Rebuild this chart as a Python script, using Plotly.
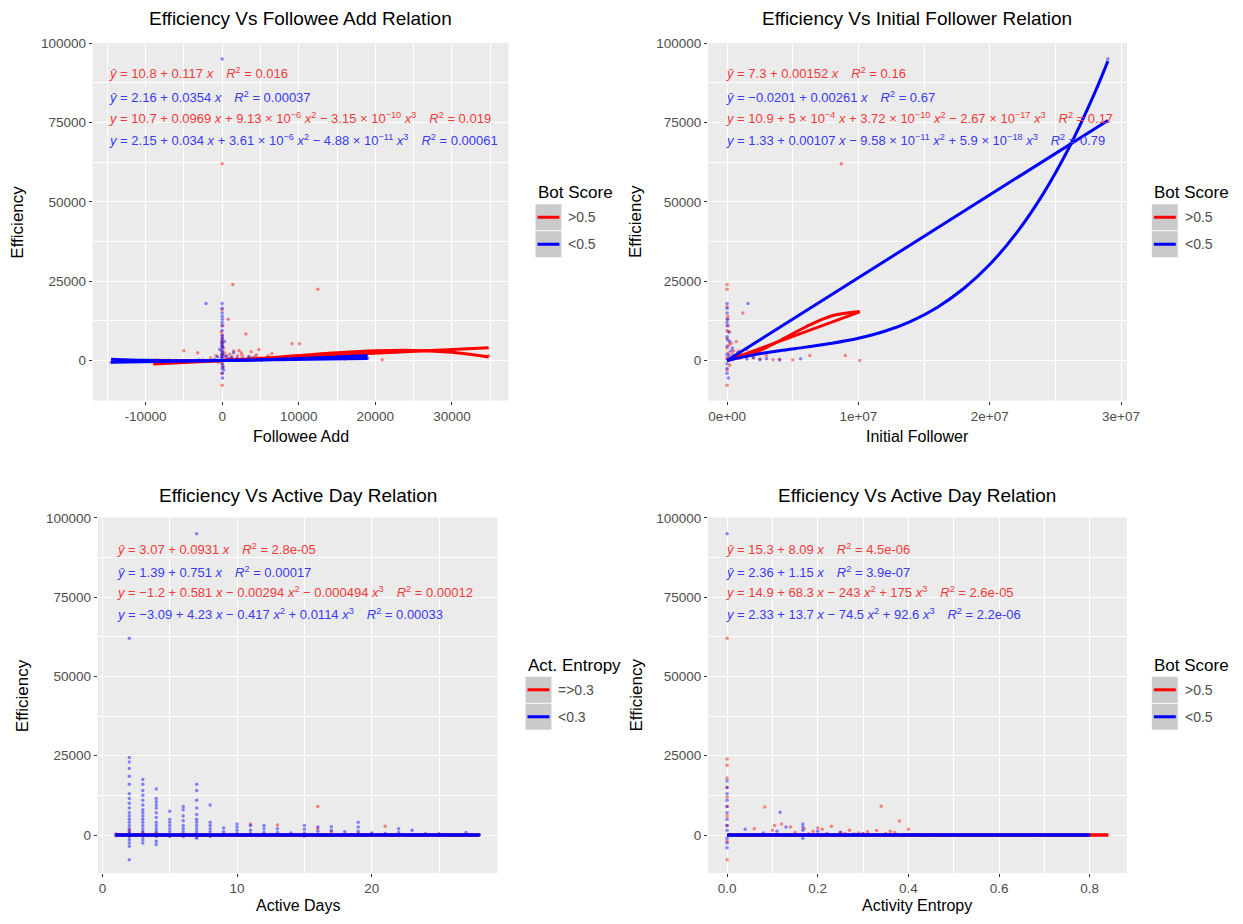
import plotly.graph_objects as go

W, H = 1243, 924
OFF = 8
FW, FH = W - 2 * OFF, H - 2 * OFF
RED, BLUE = "#FF0000", "#0000FF"
TRED, TBLUE = "#F03A3A", "#3A3AF0"
FONT = "Liberation Sans, Arial, sans-serif"

# ---------------- data ----------------
titles = ["Efficiency Vs Followee Add Relation", "Efficiency Vs Initial Follower Relation",
          "Efficiency Vs Active Day Relation", "Efficiency Vs Active Day Relation"]
xtitles = ["Followee Add", "Initial Follower", "Active Days", "Activity Entropy"]
ytitle = "Efficiency"
legend_titles = ["Bot Score", "Bot Score", "Act. Entropy", "Bot Score"]
legend_labels = [[">0.5", "<0.5"], [">0.5", "<0.5"], ["=>0.3", "<0.3"], [">0.5", "<0.5"]]

y_ticks = [0, 25000, 50000, 75000, 100000]
y_minor = [-12500, 12500, 37500, 62500, 87500]
x1_ticks = [-10000, 0, 10000, 20000, 30000]
x1_minor = [-15000, -5000, 5000, 15000, 25000, 35000]
x2_ticks = [0, 1e7, 2e7, 3e7]
x2_ticktext = ["0e+00", "1e+07", "2e+07", "3e+07"]
x2_minor = [5e6, 1.5e7, 2.5e7]
x3_ticks = [0, 10, 20]
x3_minor = [5, 15, 25]
x4_ticks = [0, 0.2, 0.4, 0.6, 0.8]
x4_ticktext = ["0.0", "0.2", "0.4", "0.6", "0.8"]
x4_minor = [0.1, 0.3, 0.5, 0.7]

# Panel 1: Followee Add
p1_red_x = [1400, 12500, 800, 3100, 10100, 9100, -3200, -5000, 20900, 0, 0, 100, -100, 50, 0, 200, -50, 300, 150,
            600, 1000, 1500, 2000, 2500, 2800, 3500, 4000, 4500, 5000, 5500, 6000, 6500, 7000, 7500, 8000, 1800,
            2200, 3800, 4800, -1500, -800, -2500, -500, 100, 0, 11000, 14000, 16000, -7000, -9000, 34800,
            0, 0, 0, 0, 60, -60, 400, 700, 1100, 1300, 1700, 2400, 2600, 3300, 4300, 5200, 5800, 6800]
p1_red_y = [24000, 22500, 13000, 8400, 5300, 5300, 2500, 3100, 300, -7800, 62000, 11000, 9000, 7000, 5500, 4000,
            3000, 2500, 1500, 1200, 2000, 3000, 1500, 2500, 800, 1200, 600, 1800, 900, 400, 1500, 2200, 700, 1000,
            300, 500, 3200, 2800, 3500, 800, 1500, 300, -500, -2000, -4000, 1000, 800, 500, 200, -300, 1500,
            16000, 8000, 2000, -1000, 4500, 6000, 700, 300, 500, 1100, 200, 400, 1700, 600, 1300, 200, 800, 400]
p1_blue_x = [0, -2100, 0, 0, 30, -30, 0, 20, 0, -20, 0, 10, 0, 0, 0, 0, 0, 50, 500, 800, 1200, -600, -1000, 2000,
             3000, 4000, 5000, 6000, -14500, 19000, -3000, 1500, -300, 300,
             0, 0, 0, 0, 0, 0, 40, -40, 100, -100, 200, 2500, 3500]
p1_blue_y = [95000, 18000, 18000, 15000, 13000, 11000, 9500, 8000, 6500, 5000, 4000, 3000, 2000, 1000, -1000,
             -2500, -4000, -5500, 1500, 600, 1000, 1200, 400, 700, 300, 900, 300, 500, -500, 700, 200, 2500, 3500, 6000,
             16500, 14000, 12000, 7200, 5700, 4500, 2500, 1500, -1800, 800, -3000, 500, 1100]
p1_red_lin_x = [-9000, 34800]
p1_red_lin_y = [-1040, 4080]
p1_red_cub_x = [-9000, 0, 5000, 10000, 15000, 20000, 25000, 30000, 34800]
p1_red_cub_y = [108, 11, 684, 1578, 2455, 3081, 3217, 2630, 1165]
p1_blue_lin_x = [-14500, 19000]
p1_blue_lin_y = [-511, 675]
p1_blue_cub_x = [-14500, -10000, -5000, 0, 5000, 10000, 15000, 19000]
p1_blue_cub_y = [417, 72, -72, 2, 256, 654, 1160, 1617]

# Panel 2: Initial Follower
p2_red_x = [0, 0, 1.2e6, 0, 1e5, 2e5, 0, 3e5, 0, 5e5, 1e6, 1.5e6, 2e6, 2.5e6, 3e6, 3.5e6, 6.3e6, 9e6, 1.01e7,
            8.7e6, 0, 0, 2e5, 4e6, 5e6, 1.5e6, 7e5, 1e5, 0, 0, 0, 0, 5e4, 1.5e5, 4e5, 6e5, 9e5]
p2_red_y = [24000, 22500, 15000, 13000, 11000, 9000, 7000, 5500, 4000, 3000, 2000, 1200, 800, 500, 1500, 300,
            1600, 1600, 0, 62000, -7800, -3000, -1500, 400, 200, 3500, 6000, 2500, 1000, 500, 17000, 9500, 14000,
            5000, 2000, 1000, 3000]
p2_blue_x = [0, 1.6e6, 0, 5e4, 0, 1e5, 0, 2e5, 0, 3e5, 0, 6e5, 1e6, 1.5e6, 2e6, 2.5e6, 3e6, 4e6, 5.6e6, 0, 0, 0,
             1e5, 2.9e7, 8e5, 4e5, 0, 0, 5e4, 1.5e5, 2.5e5]
p2_blue_y = [18000, 18000, 15000, 13000, 11000, 9000, 7500, 6000, 4500, 3000, 2000, 1500, 800, 500, 1000, 300,
             600, 200, 600, -1000, -2500, -4000, -5500, 95000, 2500, 4000, 16500, 12000, 6500, 1500, 500]
p2_red_lin_x = [0, 1.01e7]
p2_red_lin_y = [7, 15359]
p2_red_cub_x = [0, 2e6, 4e6, 6e6, 8e6, 1.01e7]
p2_red_cub_y = [11, 2285, 6254, 10636, 14149, 15500]
p2_blue_lin_x = [0, 2.9e7]
p2_blue_lin_y = [0, 75690]
p2_blue_cub_x = [0, 2e6, 4e6, 6e6, 8e6, 1e7, 1.2e7, 1.4e7, 1.6e7, 1.8e7, 2e7, 2.2e7, 2.4e7, 2.6e7, 2.8e7, 2.9e7]
p2_blue_cub_y = [1, 1804, 3125, 4246, 5450, 7020, 9240, 12393, 16761, 22630, 30280, 39996, 52061, 66757, 84370, 94356]

# Panel 3: Active Days
p3_blue_pts = {
    1: [300, -200],
    2: [24400, 23000, 21000, 18500, 16000, 13000, 11500, 10000, 8500, 7000, 6000, 5000, 4000, 3000, 2000, 1000,
        500, -500, -1500, -2500, -3500, -7800, 62000],
    3: [17500, 16000, 14000, 12500, 11000, 9500, 8000, 7000, 6000, 5000, 4000, 3000, 2000, 1000, -500, -1500, -2500],
    4: [14500, 11500, 10500, 9500, 8500, 7000, 5500, 4000, 3000, 2000, 1000, -500, -2000, -3000],
    5: [7500, 5000, 4000, 3000, 2000, 1000, -500],
    6: [9000, 8000, 6000, 4500, 3000, 2000, 1000, -500],
    7: [95000, 16000, 14000, 11000, 8500, 6500, 5000, 4000, 3000, 2000, 1000, -500, -1000],
    8: [9500, 4000, 3000, 2000, 1000, -500],
    9: [2200, 1000],
    10: [3500, 2500, 1500, 500],
    11: [3000, 1500, 500],
    12: [3000, 2000, 800],
    13: [2000, 800],
    14: [600],
    15: [3000, 1800, 600, -300],
    16: [2500, 1200],
    17: [2600, 1400],
    18: [1000],
    19: [4000, 2500, 1200],
    20: [600],
    21: [500],
    22: [2000, 800],
    23: [1500],
    24: [400],
    25: [300],
    27: [800],
    28: [100],
}
p3_blue_x = [k for k, v in p3_blue_pts.items() for _ in v]
p3_blue_y = [y for v in p3_blue_pts.values() for y in v]
p3_red_x = [1, 2, 3, 4, 11, 13, 16, 16, 17, 19, 20, 21, 24, 25, 28]
p3_red_y = [50, 1500, 800, 600, 3500, 3200, 9000, 2000, 1000, 500, 300, 2800, 200, 300, 100]
p3_red_lin_x = [1, 28]
p3_red_lin_y = [3, 6]
p3_red_cub_x = [1, 7, 14, 21, 28]
p3_red_cub_y = [-1, 3, 5, 5, 2]
p3_blue_lin_x = [1, 28]
p3_blue_lin_y = [2, 22]
p3_blue_cub_x = [1, 7, 14, 21, 28]
p3_blue_cub_y = [1, 10, 6, 7, 39]

# Panel 4: Activity Entropy
p4_red_x = [0, 0, 0, 0, 0, 0, 0, 0, 0, 0, 0, 0.083, 0.34, 0.38, 0.06, 0.1, 0.12, 0.14, 0.17, 0.19, 0.21, 0.23,
            0.25, 0.27, 0.29, 0.31, 0.33, 0.35, 0.37, 0.4, 0.41, 0.45, 0.5, 0.6, 0.68, 0.7, 0.8, 0.84,
            0.105, 0.15, 0.18, 0.2, 0.26, 0.3, 0.36]
p4_red_y = [62000, 24000, 22000, 18000, 15000, 12000, 9000, 6000, 3000, -2000, -7800, 8800, 9100, 4400, 2000, 1500,
            3500, 2500, 2000, 1200, 1800, 2800, 900, 1500, 600, 1000, 1400, 500, 800, 1800, 200, 100, 50, 50, 100,
            50, 0, 0, 3000, 800, 400, 2200, 500, 300, 1200]
p4_blue_x = [0, 0, 0, 0, 0, 0, 0, 0, 0, 0, 0, 0, 0, 0.117, 0.04, 0.08, 0.11, 0.13, 0.167, 0.167, 0.167, 0.167, 0.2,
             0.22, 0.25, 0.28, 0.3, 0.35, 0.5, 0.8]
p4_blue_y = [95000, 17000, 15000, 13000, 11000, 9000, 7000, 5000, 3000, 1500, -1000, -2500, -4000, 7200, 1800, 600,
             1200, 2500, 3500, 2500, 1500, -1000, 1200, 500, 800, 300, 400, 200, 50, 0]
p4_red_lin_x = [0, 0.84]
p4_red_lin_y = [15, 22]
p4_red_cub_x = [0, 0.4, 0.84]
p4_red_cub_y = [15, 15, 5]
p4_blue_lin_x = [0, 0.8]
p4_blue_lin_y = [2, 3]
p4_blue_cub_x = [0, 0.4, 0.8]
p4_blue_cub_y = [2, 2, 13]

eq_text = [
    ["<i>ŷ</i> = 10.8 + 0.117 <i>x</i>\u2003<i>R</i><sup>2</sup> = 0.016",
     "<i>ŷ</i> = 2.16 + 0.0354 <i>x</i>\u2003<i>R</i><sup>2</sup> = 0.00037",
     "<i>y</i> = 10.7 + 0.0969 <i>x</i> + 9.13 × 10<sup>−6</sup> <i>x</i><sup>2</sup> − 3.15 × 10<sup>−10</sup> <i>x</i><sup>3</sup>\u2003<i>R</i><sup>2</sup> = 0.019",
     "<i>y</i> = 2.15 + 0.034 <i>x</i> + 3.61 × 10<sup>−6</sup> <i>x</i><sup>2</sup> − 4.88 × 10<sup>−11</sup> <i>x</i><sup>3</sup>\u2003<i>R</i><sup>2</sup> = 0.00061"],
    ["<i>ŷ</i> = 7.3 + 0.00152 <i>x</i>\u2003<i>R</i><sup>2</sup> = 0.16",
     "<i>ŷ</i> = −0.0201 + 0.00261 <i>x</i>\u2003<i>R</i><sup>2</sup> = 0.67",
     "<i>y</i> = 10.9 + 5 × 10<sup>−4</sup> <i>x</i> + 3.72 × 10<sup>−10</sup> <i>x</i><sup>2</sup> − 2.67 × 10<sup>−17</sup> <i>x</i><sup>3</sup>\u2003<i>R</i><sup>2</sup> = 0.17",
     "<i>y</i> = 1.33 + 0.00107 <i>x</i> − 9.58 × 10<sup>−11</sup> <i>x</i><sup>2</sup> + 5.9 × 10<sup>−18</sup> <i>x</i><sup>3</sup>\u2003<i>R</i><sup>2</sup> = 0.79"],
    ["<i>ŷ</i> = 3.07 + 0.0931 <i>x</i>\u2003<i>R</i><sup>2</sup> = 2.8e-05",
     "<i>ŷ</i> = 1.39 + 0.751 <i>x</i>\u2003<i>R</i><sup>2</sup> = 0.00017",
     "<i>y</i> = −1.2 + 0.581 <i>x</i> − 0.00294 <i>x</i><sup>2</sup> − 0.000494 <i>x</i><sup>3</sup>\u2003<i>R</i><sup>2</sup> = 0.00012",
     "<i>y</i> = −3.09 + 4.23 <i>x</i> − 0.417 <i>x</i><sup>2</sup> + 0.0114 <i>x</i><sup>3</sup>\u2003<i>R</i><sup>2</sup> = 0.00033"],
    ["<i>ŷ</i> = 15.3 + 8.09 <i>x</i>\u2003<i>R</i><sup>2</sup> = 4.5e-06",
     "<i>ŷ</i> = 2.36 + 1.15 <i>x</i>\u2003<i>R</i><sup>2</sup> = 3.9e-07",
     "<i>y</i> = 14.9 + 68.3 <i>x</i> − 243 <i>x</i><sup>2</sup> + 175 <i>x</i><sup>3</sup>\u2003<i>R</i><sup>2</sup> = 2.6e-05",
     "<i>y</i> = 2.33 + 13.7 <i>x</i> − 74.5 <i>x</i><sup>2</sup> + 92.6 <i>x</i><sup>3</sup>\u2003<i>R</i><sup>2</sup> = 2.2e-06"],
]

# ---------------- layout helpers (reference pixel -> paper) ----------------
def gx(p):
    return 18 + (p - 18) * 1.008

def gy(p):
    return p - 6 + 6 * (p - 18) / 890

def fx(p):
    return (gx(p) - OFF) / FW

def fy(p):
    return 1 - (gy(p) - OFF) / FH

panels = [
    dict(xd=(93, 510), yd=(42, 400), xr=[-16900, 37400], yr=[-12600, 100100],
         xt=x1_ticks, xtt=[str(v) for v in x1_ticks], xm=x1_minor,
         pts=[(p1_red_x, p1_red_y, RED), (p1_blue_x, p1_blue_y, BLUE)],
         lines=[(p1_red_lin_x, p1_red_lin_y, RED, "linear"), (p1_red_cub_x, p1_red_cub_y, RED, "spline"),
                (p1_blue_lin_x, p1_blue_lin_y, BLUE, "linear"), (p1_blue_cub_x, p1_blue_cub_y, BLUE, "spline")],
         title_y=18, eq_x=107, eq_y=[72, 96, 117, 139], xt_y=436, yt_x=18, leg_x=537, leg_y=192),
    dict(xd=(710, 1130), yd=(42, 400), xr=[-1.45e6, 3.045e7], yr=[-12600, 100100],
         xt=x2_ticks, xtt=x2_ticktext, xm=x2_minor,
         pts=[(p2_red_x, p2_red_y, RED), (p2_blue_x, p2_blue_y, BLUE)],
         lines=[(p2_red_lin_x, p2_red_lin_y, RED, "linear"), (p2_red_cub_x, p2_red_cub_y, RED, "spline"),
                (p2_blue_lin_x, p2_blue_lin_y, BLUE, "linear"), (p2_blue_cub_x, p2_blue_cub_y, BLUE, "spline")],
         title_y=18, eq_x=726, eq_y=[72, 96, 117, 139], xt_y=436, yt_x=638, leg_x=1155, leg_y=192),
    dict(xd=(98, 499), yd=(517, 873), xr=[-0.35, 29.35], yr=[-12000, 100100],
         xt=x3_ticks, xtt=[str(v) for v in x3_ticks], xm=x3_minor,
         pts=[(p3_red_x, p3_red_y, RED), (p3_blue_x, p3_blue_y, BLUE)],
         lines=[(p3_red_lin_x, p3_red_lin_y, RED, "linear"), (p3_red_cub_x, p3_red_cub_y, RED, "spline"),
                (p3_blue_lin_x, p3_blue_lin_y, BLUE, "linear"), (p3_blue_cub_x, p3_blue_cub_y, BLUE, "spline")],
         title_y=495, eq_x=115, eq_y=[549, 572, 592, 614], xt_y=905, yt_x=22, leg_x=527, leg_y=665),
    dict(xd=(710, 1130), yd=(517, 873), xr=[-0.042, 0.882], yr=[-12000, 100100],
         xt=x4_ticks, xtt=x4_ticktext, xm=x4_minor,
         pts=[(p4_red_x, p4_red_y, RED), (p4_blue_x, p4_blue_y, BLUE)],
         lines=[(p4_red_lin_x, p4_red_lin_y, RED, "linear"), (p4_red_cub_x, p4_red_cub_y, RED, "spline"),
                (p4_blue_lin_x, p4_blue_lin_y, BLUE, "linear"), (p4_blue_cub_x, p4_blue_cub_y, BLUE, "spline")],
         title_y=495, eq_x=726, eq_y=[549, 572, 592, 614], xt_y=905, yt_x=638, leg_x=1155, leg_y=665),
]

fig = go.Figure()
layout = dict(width=FW, height=FH, margin=dict(l=0, r=0, t=0, b=0), paper_bgcolor="white",
              plot_bgcolor="#EBEBEB", showlegend=False, font=dict(family=FONT))
annotations = []
shapes = []

for i, p in enumerate(panels):
    n = "" if i == 0 else str(i + 1)
    xa, ya = "x" + n, "y" + n
    for xs, ys, col in p["pts"]:
        fig.add_trace(go.Scatter(x=xs, y=ys, mode="markers", xaxis=xa, yaxis=ya,
                                 marker=dict(size=3.5, color=col, opacity=0.45, line=dict(width=0)),
                                 hoverinfo="skip"))
    for xs, ys, col, shp in p["lines"]:
        fig.add_trace(go.Scatter(x=xs, y=ys, mode="lines", xaxis=xa, yaxis=ya,
                                 line=dict(color=col, width=3, shape=shp), hoverinfo="skip"))
    common = dict(ticks="outside", ticklen=3, tickwidth=1, tickcolor="#333333", showgrid=True,
                  gridcolor="white", gridwidth=1.4, zeroline=False, showline=False,
                  tickfont=dict(size=13.5, color="#4D4D4D", family=FONT))
    layout["xaxis" + n] = dict(domain=[fx(p["xd"][0]), fx(p["xd"][1])], range=p["xr"], anchor=ya,
                               tickmode="array", tickvals=p["xt"], ticktext=p["xtt"],
                               minor=dict(tickmode="array", tickvals=p["xm"], showgrid=True,
                                          gridcolor="white", gridwidth=0.6, ticks=""),
                               **common)
    layout["yaxis" + n] = dict(domain=[fy(p["yd"][1]), fy(p["yd"][0])], range=p["yr"], anchor=xa,
                               tickmode="array", tickvals=y_ticks, ticktext=[str(v) for v in y_ticks],
                               minor=dict(tickmode="array", tickvals=y_minor, showgrid=True,
                                          gridcolor="white", gridwidth=0.6, ticks=""),
                               **common)
    cx = (p["xd"][0] + p["xd"][1]) / 2
    annotations.append(dict(text=titles[i], x=fx(cx), y=fy(p["title_y"]), xref="paper", yref="paper",
                            showarrow=False, xanchor="center", yanchor="middle",
                            font=dict(size=19, color="black", family=FONT)))
    annotations.append(dict(text=xtitles[i], x=fx(cx), y=fy(p["xt_y"]), xref="paper", yref="paper",
                            showarrow=False, xanchor="center", yanchor="middle",
                            font=dict(size=16, color="black", family=FONT)))
    cy = (p["yd"][0] + p["yd"][1]) / 2
    annotations.append(dict(text=ytitle, x=fx(p["yt_x"]), y=fy(cy), xref="paper", yref="paper",
                            showarrow=False, xanchor="center", yanchor="middle", textangle=-90,
                            font=dict(size=17, color="black", family=FONT)))
    for j, t in enumerate(eq_text[i]):
        annotations.append(dict(text=t, x=fx(p["eq_x"]), y=fy(p["eq_y"][j]), xref="paper", yref="paper",
                                showarrow=False, xanchor="left", yanchor="middle",
                                font=dict(size=13, color=TRED if j % 2 == 0 else TBLUE, family=FONT)))
    # legend
    lx, ly = p["leg_x"], p["leg_y"]
    annotations.append(dict(text=legend_titles[i], x=fx(lx), y=fy(ly), xref="paper", yref="paper",
                            showarrow=False, xanchor="left", yanchor="middle",
                            font=dict(size=17, color="black", family=FONT)))
    for k, (lab, col) in enumerate(zip(legend_labels[i], [RED, BLUE])):
        top = ly + 11 + 27 * k
        shapes.append(dict(type="rect", xref="paper", yref="paper", x0=fx(lx), x1=fx(lx + 26),
                           y0=fy(top + 26.5), y1=fy(top + 0.5), fillcolor="#CACACA", line=dict(width=0)))
        shapes.append(dict(type="line", xref="paper", yref="paper", x0=fx(lx + 2), x1=fx(lx + 24),
                           y0=fy(top + 13.5), y1=fy(top + 13.5), line=dict(color=col, width=3)))
        annotations.append(dict(text=lab, x=fx(lx + 31), y=fy(top + 13.5), xref="paper", yref="paper",
                                showarrow=False, xanchor="left", yanchor="middle",
                                font=dict(size=14, color="#4D4D4D", family=FONT)))

layout["annotations"] = annotations
layout["shapes"] = shapes
fig.update_layout(**layout)
fig.write_html("out.html")
